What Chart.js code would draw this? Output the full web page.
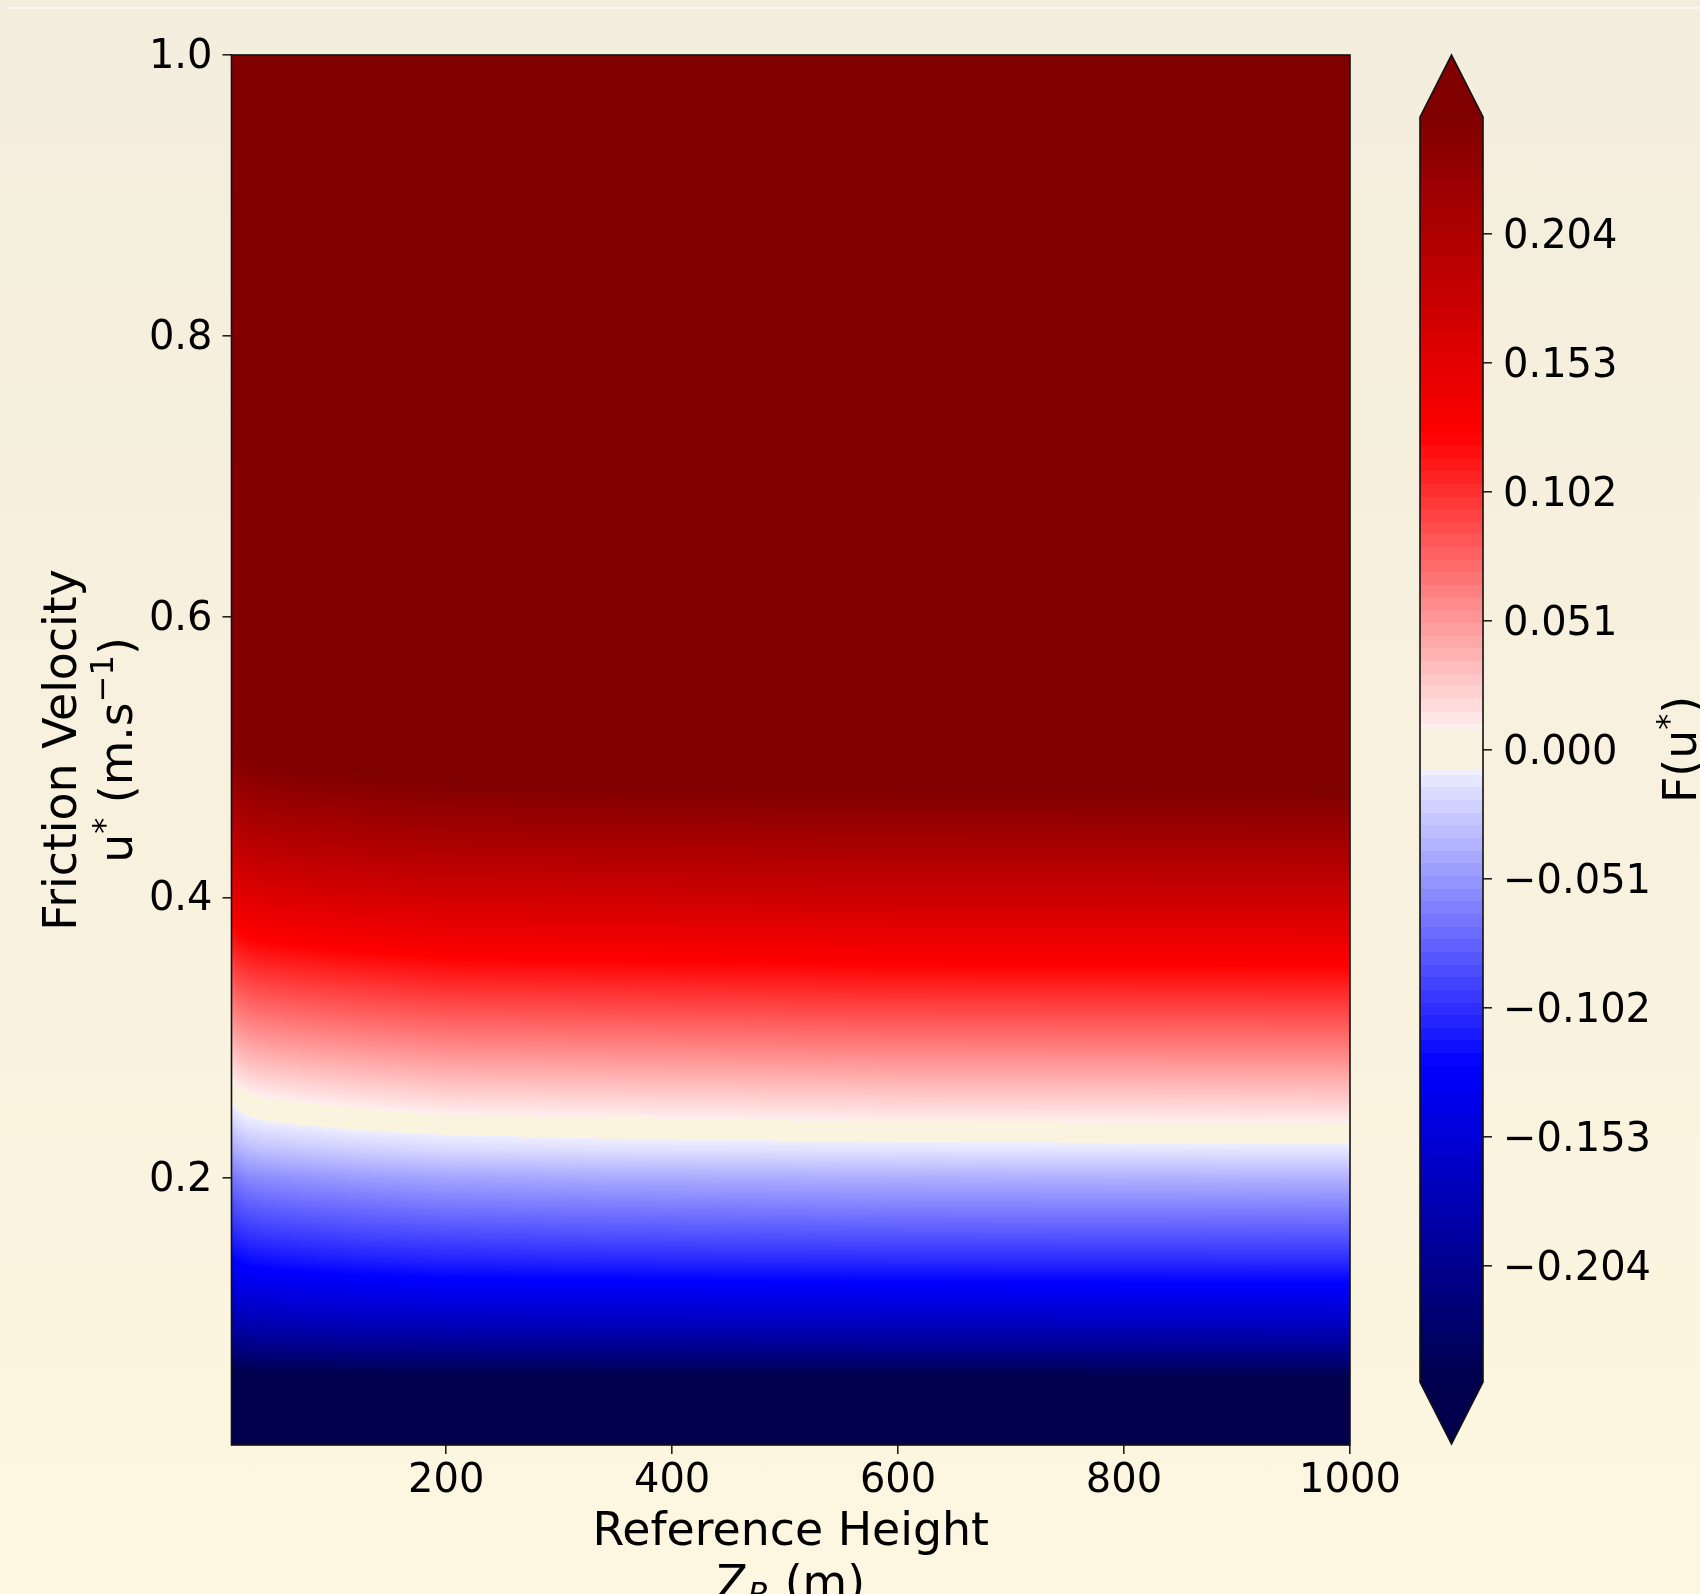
<!DOCTYPE html>
<html>
<head>
<meta charset="utf-8">
<script src="https://cdn.jsdelivr.net/npm/chart.js@4.4.0/dist/chart.umd.min.js"></script>
<style>
    html, body { margin: 0; padding: 0; }
    body {
        width: 1700px; height: 1594px; overflow: hidden; position: relative;
        background: linear-gradient(to bottom, #f3eddd 0%, #f8f1de 50%, #fdf6e0 100%);
    }
    #topline { position: absolute; left: 6px; right: 0; top: 7px; height: 2px; background: rgba(255,255,255,0.55); }
    canvas { position: absolute; top: 0; }
    #main { left: 0; width: 1700px; height: 1594px; }
    #cbar { left: 1380px; width: 320px; height: 1594px; }
</style>
</head>
<body>
<div id="topline"></div>
<canvas id="main" width="1700" height="1594"></canvas>
<canvas id="cbar" width="320" height="1594"></canvas>
<script>
// grid columns: reference height Z_R (m)
const zR = [10, 15, 25, 40, 70, 120, 200, 350, 600, 1000];
// grid rows: friction velocity u* (m/s)
const uStar = [0.01, 0.03, 0.05, 0.06, 0.07, 0.08, 0.09, 0.10, 0.12, 0.14, 0.16, 0.18, 0.20, 0.22, 0.23,
               0.24, 0.25, 0.26, 0.28, 0.30, 0.33, 0.36, 0.40, 0.44, 0.48, 0.52, 0.60, 0.80, 1.00];

// F(u*), one array per Z_R column (same order as uStar)
const fAtZ10   = [-0.406, -0.326, -0.271, -0.255, -0.234, -0.214, -0.197, -0.180, -0.152, -0.128, -0.108, -0.090, -0.069, -0.044, -0.033, -0.022, -0.012, -0.002, 0.019, 0.040, 0.071, 0.103, 0.145, 0.185, 0.222, 0.259, 0.319, 0.479, 0.639];
const fAtZ15   = [-0.405, -0.325, -0.270, -0.254, -0.232, -0.212, -0.194, -0.177, -0.149, -0.125, -0.104, -0.085, -0.064, -0.039, -0.028, -0.017, -0.007, 0.003, 0.024, 0.045, 0.076, 0.108, 0.150, 0.190, 0.227, 0.264, 0.324, 0.484, 0.644];
const fAtZ25   = [-0.404, -0.324, -0.269, -0.252, -0.230, -0.210, -0.192, -0.175, -0.146, -0.121, -0.100, -0.080, -0.059, -0.034, -0.023, -0.012, -0.002, 0.008, 0.029, 0.050, 0.081, 0.113, 0.155, 0.195, 0.232, 0.269, 0.329, 0.489, 0.649];
const fAtZ40   = [-0.404, -0.324, -0.269, -0.251, -0.229, -0.208, -0.190, -0.173, -0.144, -0.119, -0.097, -0.077, -0.056, -0.031, -0.020, -0.009, 0.001, 0.011, 0.032, 0.053, 0.084, 0.116, 0.158, 0.198, 0.235, 0.272, 0.332, 0.492, 0.652];
const fAtZ70   = [-0.403, -0.323, -0.268, -0.250, -0.228, -0.207, -0.189, -0.171, -0.142, -0.116, -0.095, -0.074, -0.053, -0.028, -0.017, -0.006, 0.004, 0.014, 0.035, 0.056, 0.087, 0.119, 0.161, 0.201, 0.238, 0.275, 0.335, 0.495, 0.655];
const fAtZ120  = [-0.402, -0.322, -0.267, -0.249, -0.226, -0.205, -0.187, -0.169, -0.139, -0.113, -0.091, -0.071, -0.049, -0.024, -0.013, -0.002, 0.008, 0.018, 0.039, 0.060, 0.091, 0.123, 0.165, 0.205, 0.242, 0.279, 0.339, 0.499, 0.659];
const fAtZ200  = [-0.401, -0.321, -0.266, -0.247, -0.225, -0.203, -0.184, -0.167, -0.136, -0.110, -0.088, -0.066, -0.045, -0.019, -0.009, 0.003, 0.013, 0.023, 0.044, 0.065, 0.096, 0.128, 0.170, 0.210, 0.247, 0.284, 0.344, 0.504, 0.664];
const fAtZ350  = [-0.401, -0.321, -0.266, -0.246, -0.224, -0.202, -0.183, -0.165, -0.135, -0.108, -0.085, -0.064, -0.042, -0.016, -0.006, 0.005, 0.015, 0.025, 0.046, 0.067, 0.098, 0.130, 0.172, 0.212, 0.249, 0.286, 0.346, 0.506, 0.666];
const fAtZ600  = [-0.400, -0.320, -0.265, -0.246, -0.223, -0.201, -0.182, -0.164, -0.133, -0.106, -0.083, -0.061, -0.040, -0.014, -0.004, 0.008, 0.018, 0.028, 0.049, 0.070, 0.101, 0.133, 0.175, 0.215, 0.252, 0.289, 0.349, 0.509, 0.669];
const fAtZ1000 = [-0.400, -0.320, -0.265, -0.245, -0.222, -0.200, -0.181, -0.163, -0.132, -0.105, -0.082, -0.060, -0.038, -0.013, -0.002, 0.009, 0.019, 0.029, 0.050, 0.071, 0.102, 0.134, 0.176, 0.216, 0.253, 0.290, 0.350, 0.510, 0.670];

const xTicks = [200, 400, 600, 800, 1000];
const yTicks = [0.2, 0.4, 0.6, 0.8, 1.0];
const cbTicks = [-0.204, -0.153, -0.102, -0.051, 0, 0.051, 0.102, 0.153, 0.204];

const fMin = -0.25, fMax = 0.25;
const levelStep = 0.005;   // colour bar band spacing
const gapHalf = 0.008;     // |F| below this is left unfilled

const fColumns = [fAtZ10, fAtZ15, fAtZ25, fAtZ40, fAtZ70, fAtZ120, fAtZ200, fAtZ350, fAtZ600, fAtZ1000];

const FONT = '"DejaVu Sans", "Liberation Sans", sans-serif';
const INK = '#000';
const LABEL_SIZE = 45.8;
const SUP_SIZE = 32;

// matplotlib 'seismic'
const seismicStops = [[0, 0, 0.3], [0, 0, 1], [1, 1, 1], [1, 0, 0], [0.5, 0, 0]];
function seismic(t) {
    t = Math.min(1, Math.max(0, t));
    const s = t * 4;
    const i = Math.min(3, Math.floor(s));
    const f = s - i;
    const a = seismicStops[i], b = seismicStops[i + 1];
    return [0, 1, 2].map(k => Math.round(255 * (a[k] + (b[k] - a[k]) * f)));
}

function colorFor(v, step) {
    if (Math.abs(v) < gapHalf) return null;
    if (v >= fMax) return seismic(1);
    if (v <= fMin) return seismic(0);
    if (step) {
        const idx = Math.floor((v - fMin) / step);
        v = fMin + (idx + 0.5) * step;
    }
    return seismic((v - fMin) / (fMax - fMin));
}

function clamp01(t) { return Math.min(1, Math.max(0, t)); }

function sampleF(z, u) {
    let i = 0;
    while (i < zR.length - 2 && z > zR[i + 1]) i++;
    let j = 0;
    while (j < uStar.length - 2 && u > uStar[j + 1]) j++;
    const tx = clamp01((z - zR[i]) / (zR[i + 1] - zR[i]));
    const ty = clamp01((u - uStar[j]) / (uStar[j + 1] - uStar[j]));
    const a = fColumns[i][j], b = fColumns[i + 1][j];
    const c = fColumns[i][j + 1], d = fColumns[i + 1][j + 1];
    return (a * (1 - tx) + b * tx) * (1 - ty) + (c * (1 - tx) + d * tx) * ty;
}

// text with super/subscripts, centred on cx
function fontOf(p) { return (p.italic ? 'italic ' : '') + (p.size || LABEL_SIZE) + 'px ' + FONT; }
function drawRich(ctx, parts, cx, baseY) {
    let total = 0;
    parts.forEach(p => { ctx.font = fontOf(p); p.w = ctx.measureText(p.t).width; total += p.w; });
    let x = cx - total / 2;
    ctx.textAlign = 'left';
    ctx.textBaseline = 'alphabetic';
    parts.forEach(p => { ctx.font = fontOf(p); ctx.fillText(p.t, x, baseY + (p.dy || 0)); x += p.w; });
}

const heatmapPlugin = {
    id: 'heatmap',
    beforeDatasetsDraw(chart) {
        const { ctx, chartArea: a, scales: { x, y } } = chart;
        const x0 = Math.round(a.left), y0 = Math.round(a.top);
        const w = Math.round(a.right) - x0, h = Math.round(a.bottom) - y0;
        const off = document.createElement('canvas');
        off.width = w; off.height = h;
        const octx = off.getContext('2d');
        const img = octx.createImageData(w, h);
        const zAt = [];
        for (let px = 0; px < w; px++) zAt.push(x.getValueForPixel(x0 + px + 0.5));
        for (let py = 0; py < h; py++) {
            const u = y.getValueForPixel(y0 + py + 0.5);
            for (let px = 0; px < w; px++) {
                const c = colorFor(sampleF(zAt[px], u), 0);
                if (!c) continue;
                const k = (py * w + px) * 4;
                img.data[k] = c[0]; img.data[k + 1] = c[1]; img.data[k + 2] = c[2]; img.data[k + 3] = 255;
            }
        }
        octx.putImageData(img, 0, 0);
        ctx.drawImage(off, x0, y0);
    }
};

const framePlugin = {
    id: 'frame',
    afterDraw(chart) {
        const { ctx, chartArea: a } = chart;
        ctx.save();
        ctx.strokeStyle = '#111';
        ctx.lineWidth = 1.6;
        ctx.strokeRect(a.left, a.top, a.right - a.left, a.bottom - a.top);
        ctx.restore();
    }
};

const axisTitlePlugin = {
    id: 'axisTitles',
    afterDraw(chart) {
        const { ctx, chartArea: a } = chart;
        const cx = (a.left + a.right) / 2, cy = (a.top + a.bottom) / 2;
        ctx.save();
        ctx.fillStyle = INK;
        drawRich(ctx, [{ t: 'Reference Height' }], cx, 1545);
        drawRich(ctx, [{ t: 'Z' }, { t: 'R', size: SUP_SIZE, italic: true, dy: 7 }, { t: ' (m)' }], cx, 1598);
        ctx.save();
        ctx.translate(76, cy);
        ctx.rotate(-Math.PI / 2);
        drawRich(ctx, [{ t: 'Friction Velocity' }], 0, 0);
        ctx.restore();
        ctx.save();
        ctx.translate(132, cy);
        ctx.rotate(-Math.PI / 2);
        drawRich(ctx, [{ t: 'u' }, { t: '*', size: SUP_SIZE, dy: -17 }, { t: ' (m.s' }, { t: '\u22121', size: SUP_SIZE, dy: -19 }, { t: ')' }], 0, 0);
        ctx.restore();
        ctx.restore();
    }
};

const tickGrid = { display: true, drawOnChartArea: false, drawTicks: true, tickLength: 9, color: '#222', lineWidth: 1.6 };
const tickFont = { family: FONT, size: 40 };

new Chart(document.getElementById('main'), {
    type: 'scatter',
    data: { datasets: [{ data: [], pointRadius: 0 }] },
    options: {
        responsive: false, animation: false, devicePixelRatio: 1,
        layout: { padding: { left: 0, top: 55, right: 350, bottom: 0 } },
        plugins: { legend: { display: false }, tooltip: { enabled: false } },
        scales: {
            x: {
                type: 'linear', min: 10, max: 1000,
                afterBuildTicks: s => { s.ticks = xTicks.map(v => ({ value: v })); },
                afterFit: s => { s.height = 149; },
                grid: tickGrid, border: { display: false },
                ticks: { font: tickFont, color: INK, padding: 4, maxRotation: 0, autoSkip: false, callback: v => String(v) }
            },
            y: {
                type: 'linear', min: 0.01, max: 1.0,
                afterBuildTicks: s => { s.ticks = yTicks.map(v => ({ value: v })); },
                afterFit: s => { s.width = 231.5; },
                grid: tickGrid, border: { display: false },
                ticks: { font: tickFont, color: INK, padding: 10, labelOffset: 2.5, autoSkip: false, callback: v => Number(v).toFixed(1) }
            }
        }
    },
    plugins: [heatmapPlugin, framePlugin, axisTitlePlugin]
});

// colour bar, with triangular extensions at both ends
const colorbarPlugin = {
    id: 'colorbar',
    beforeDatasetsDraw(chart) {
        const { ctx, chartArea: a, scales: { y } } = chart;
        const ext = (a.bottom - a.top) * 0.049;
        const cx = (a.left + a.right) / 2;
        ctx.save();
        for (let py = Math.round(a.top); py < Math.round(a.bottom); py++) {
            const c = colorFor(y.getValueForPixel(py + 0.5), levelStep);
            if (!c) continue;
            ctx.fillStyle = 'rgb(' + c.join(',') + ')';
            ctx.fillRect(a.left, py, a.right - a.left, 1);
        }
        const top = seismic(1), bot = seismic(0);
        ctx.fillStyle = 'rgb(' + top.join(',') + ')';
        ctx.beginPath();
        ctx.moveTo(a.left, a.top + 0.5); ctx.lineTo(cx, a.top - ext); ctx.lineTo(a.right, a.top + 0.5);
        ctx.closePath(); ctx.fill();
        ctx.fillStyle = 'rgb(' + bot.join(',') + ')';
        ctx.beginPath();
        ctx.moveTo(a.left, a.bottom - 0.5); ctx.lineTo(cx, a.bottom + ext); ctx.lineTo(a.right, a.bottom - 0.5);
        ctx.closePath(); ctx.fill();
        ctx.strokeStyle = '#111';
        ctx.lineWidth = 1.6;
        ctx.beginPath();
        ctx.moveTo(a.left, a.top); ctx.lineTo(cx, a.top - ext); ctx.lineTo(a.right, a.top);
        ctx.lineTo(a.right, a.bottom); ctx.lineTo(cx, a.bottom + ext); ctx.lineTo(a.left, a.bottom);
        ctx.closePath(); ctx.stroke();
        ctx.restore();
    },
    afterDraw(chart) {
        const { ctx, chartArea: a } = chart;
        ctx.save();
        ctx.fillStyle = INK;
        ctx.translate(a.right + 213, (a.top + a.bottom) / 2);
        ctx.rotate(-Math.PI / 2);
        drawRich(ctx, [{ t: 'F(u' }, { t: '*', size: SUP_SIZE, dy: -17 }, { t: ')' }], 0, 0);
        ctx.restore();
    }
};

function cbLabel(v) {
    const s = Math.abs(v).toFixed(3);
    return v < 0 ? '\u2212' + s : s;
}

new Chart(document.getElementById('cbar'), {
    type: 'scatter',
    data: { datasets: [{ data: [], pointRadius: 0 }] },
    options: {
        responsive: false, animation: false, devicePixelRatio: 1,
        layout: { padding: { left: 40, top: 117, right: 0, bottom: 212 } },
        plugins: { legend: { display: false }, tooltip: { enabled: false } },
        scales: {
            x: { type: 'linear', display: false, min: 0, max: 1 },
            y: {
                type: 'linear', position: 'right', min: fMin, max: fMax,
                afterBuildTicks: s => { s.ticks = cbTicks.map(v => ({ value: v })); },
                afterFit: s => { s.width = 217; },
                grid: tickGrid, border: { display: false },
                ticks: { font: tickFont, color: INK, padding: 11, labelOffset: 4, autoSkip: false, callback: v => cbLabel(v) }
            }
        }
    },
    plugins: [colorbarPlugin]
});
</script>
</body>
</html>
